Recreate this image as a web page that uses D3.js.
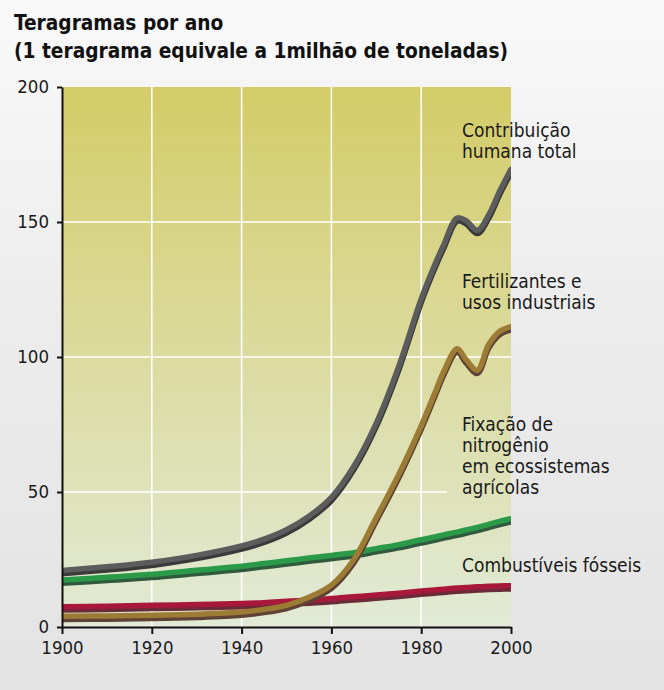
<!DOCTYPE html>
<html>
<head>
<meta charset="utf-8">
<script src="https://cdn.jsdelivr.net/npm/d3@7"></script>
<style>
  html, body { margin: 0; padding: 0; }
  body { width: 664px; height: 690px; overflow: hidden; }
  svg { display: block; }
  text { font-family: "DejaVu Sans Condensed", "DejaVu Sans", sans-serif; font-stretch: condensed; }
</style>
</head>
<body>
<svg id="chart" width="664" height="690"></svg>
<script>
// Nitrogen fixed per year by human activity, in teragrams
const years = [1900, 1910, 1920, 1930, 1940, 1945, 1950, 1955, 1960, 1965, 1970, 1975,
               1980, 1983, 1985, 1988, 1990, 1992.5, 1995, 1997.5, 2000];

const totalHuman = [20.4, 21.8, 23.5, 26, 29.5, 32, 35.5, 40.5, 47.5, 59, 75, 96,
                    121, 133.5, 141, 151, 150, 146.4, 152, 161, 169];
const fertilizers = [3.5, 3.6, 3.8, 4.2, 5, 6, 7.5, 10.5, 15, 24.5, 40, 56,
                     74, 86, 94, 102.5, 98.5, 94.6, 104, 109, 110.7];
const cropFixation = [16.9, 17.9, 19, 20.5, 22, 23, 24, 25, 26, 27, 28.5, 30,
                      31.8, 32.8, 33.6, 34.6, 35.4, 36.4, 37.5, 38.6, 39.6];
const fossilFuels = [7, 7.2, 7.5, 7.8, 8.2, 8.5, 9, 9.5, 10, 10.7, 11.3, 12,
                     12.8, 13.2, 13.5, 13.9, 14.1, 14.4, 14.55, 14.7, 14.8];

const xTicks = [1900, 1920, 1940, 1960, 1980, 2000];
const yTicks = [0, 50, 100, 150, 200];

const titleLines = ["Teragramas por ano", "(1 teragrama equivale a 1milhão de toneladas)"];

const labelTotal = ["Contribuição", "humana total"];
const labelFert = ["Fertilizantes e", "usos industriais"];
const labelCrop = ["Fixação de", "nitrogênio", "em ecossistemas", "agrícolas"];
const labelFossil = ["Combustíveis fósseis"];

const svg = d3.select("#chart");
const W = 664, H = 690;
const plot = { left: 62, right: 511, top: 87, bottom: 627 };

const x = d3.scaleLinear().domain([1900, 2000]).range([plot.left, plot.right]);
const y = d3.scaleLinear().domain([0, 200]).range([plot.bottom, plot.top]);

const defs = svg.append("defs");

// page backdrop: soft light-grey vertical fade
const pageGrad = defs.append("linearGradient")
  .attr("id", "pageGrad").attr("x1", 0).attr("y1", 0).attr("x2", 0).attr("y2", 1);
pageGrad.append("stop").attr("offset", 0).attr("stop-color", "#f9f9f9");
pageGrad.append("stop").attr("offset", 0.45).attr("stop-color", "#ececec");
pageGrad.append("stop").attr("offset", 1).attr("stop-color", "#e3e3e3");

// plot area: olive at the top fading to pale green at the bottom
const plotGrad = defs.append("linearGradient")
  .attr("id", "plotGrad").attr("gradientUnits", "userSpaceOnUse")
  .attr("x1", 0).attr("y1", plot.top).attr("x2", 0).attr("y2", plot.bottom);
plotGrad.append("stop").attr("offset", 0).attr("stop-color", "#d4cc68");
plotGrad.append("stop").attr("offset", 0.5).attr("stop-color", "#dbdb9f");
plotGrad.append("stop").attr("offset", 1).attr("stop-color", "#e1ead6");

defs.append("clipPath").attr("id", "plotClip")
  .append("rect")
  .attr("x", plot.left).attr("y", plot.top - 10)
  .attr("width", plot.right - plot.left).attr("height", plot.bottom - plot.top + 10);

svg.append("rect").attr("width", W).attr("height", H).attr("fill", "url(#pageGrad)");

svg.append("rect")
  .attr("x", plot.left).attr("y", plot.top)
  .attr("width", plot.right - plot.left).attr("height", plot.bottom - plot.top)
  .attr("fill", "url(#plotGrad)");

// white grid
const grid = svg.append("g").attr("stroke", "#ffffff").attr("stroke-width", 1.6);
grid.selectAll("line.v").data(xTicks.slice(1, -1)).join("line")
  .attr("x1", d => x(d)).attr("x2", d => x(d))
  .attr("y1", plot.top).attr("y2", plot.bottom);
grid.selectAll("line.h").data(yTicks.slice(1, -1)).join("line")
  .attr("x1", plot.left).attr("x2", plot.right)
  .attr("y1", d => y(d)).attr("y2", d => y(d));

// annotation blocks
const blocks = [
  { lines: labelTotal, baseline: 137 },
  { lines: labelFert, baseline: 288 },
  { lines: labelCrop, baseline: 431 },
  { lines: labelFossil, baseline: 572 }
];
const labelX = 462, lineH = 21, labelSize = 19;

// knock the grid out behind the labels, using the same background fill
const knock = svg.append("g").attr("clip-path", "url(#plotClip)");

// series, bottom of the stack first so later ones pass over earlier ones
const series = [
  { values: fossilFuels, color: "#a8183a", shade: "#6a2a38" },
  { values: cropFixation, color: "#2a9a48", shade: "#30593d" },
  { values: fertilizers, color: "#9c7c34", shade: "#5e4236" },
  { values: totalHuman, color: "#5c5c5c", shade: "#3a3a3a" }
];

const line = d3.line()
  .x((d, i) => x(years[i]))
  .y(d => y(d))
  .curve(d3.curveCatmullRom.alpha(0.5));

const linesG = svg.append("g").attr("clip-path", "url(#plotClip)");

// axes
const axisColor = "#111";
const yAxis = svg.append("g").attr("transform", `translate(${plot.left},0)`)
  .call(d3.axisLeft(y).tickValues(yTicks).tickSize(5).tickPadding(8).tickSizeOuter(0));
const xAxis = svg.append("g").attr("transform", `translate(0,${plot.bottom})`)
  .call(d3.axisBottom(x).tickValues(xTicks).tickFormat(d3.format("d")).tickSize(7).tickPadding(3).tickSizeOuter(0));
[yAxis, xAxis].forEach(g => {
  g.select(".domain").attr("stroke", axisColor).attr("stroke-width", 2);
  g.selectAll(".tick line").attr("stroke", axisColor).attr("stroke-width", 2);
  g.selectAll(".tick text").attr("fill", "#1a1a1a").attr("font-size", 18.5)
    .attr("font-family", "\"DejaVu Sans Condensed\", \"DejaVu Sans\", sans-serif");
});
xAxis.selectAll(".tick text").attr("dy", "0.9em");

// labels
const labelsG = svg.append("g").attr("fill", "#1a1a1a").attr("font-size", labelSize);
blocks.forEach(b => {
  const t = labelsG.append("text").attr("x", labelX).attr("y", b.baseline);
  b.lines.forEach((s, i) => {
    t.append("tspan").attr("x", labelX).attr("dy", i === 0 ? 0 : lineH).text(s);
  });
  const bb = t.node().getBBox();
  knock.append("rect")
    .attr("x", bb.x - 15).attr("y", bb.y - 1)
    .attr("width", bb.width + 15).attr("height", bb.height + 2)
    .attr("fill", "url(#plotGrad)");
});

series.forEach(s => {
  linesG.append("path").datum(s.values)
    .attr("d", line).attr("fill", "none")
    .attr("stroke", s.shade).attr("stroke-width", 6)
    .attr("stroke-linecap", "round").attr("stroke-linejoin", "round")
    .attr("transform", "translate(0,1.6)");
  linesG.append("path").datum(s.values)
    .attr("d", line).attr("fill", "none")
    .attr("stroke", s.color).attr("stroke-width", 5.5)
    .attr("stroke-linecap", "round").attr("stroke-linejoin", "round")
    .attr("transform", "translate(0,-1.4)");
});

// title
const title = svg.append("g").attr("fill", "#111").attr("font-weight", "bold").attr("font-size", 20.7);
titleLines.forEach((s, i) => {
  title.append("text").attr("x", 14).attr("y", 30 + i * 28).text(s);
});
</script>
</body>
</html>
